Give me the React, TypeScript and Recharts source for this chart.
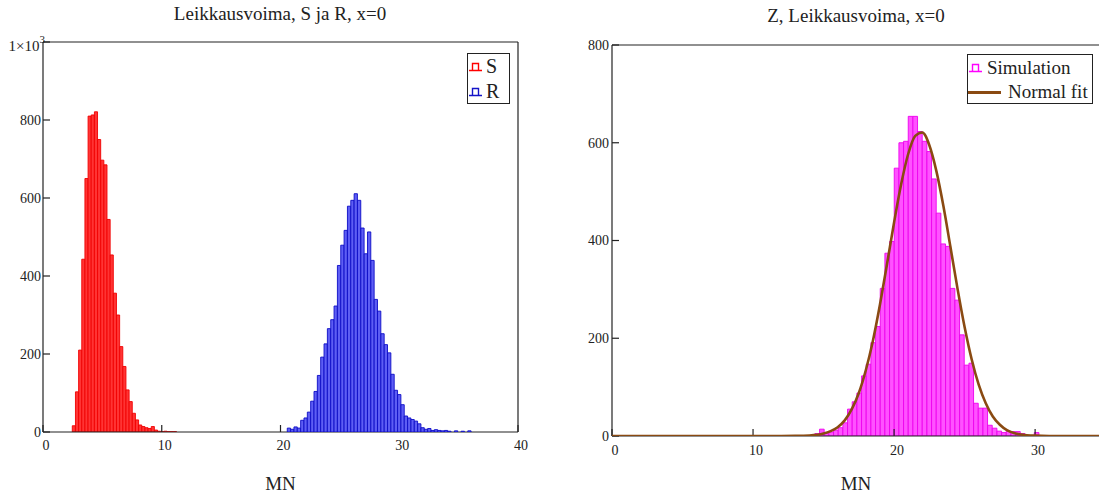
import React from 'react'
import { BarChart, Bar, LineChart, Line, XAxis, YAxis, Legend } from 'recharts'

// S histogram (red), bin centres start + i * bin
const S_START = 2.6
const S_BIN = 0.266
const sCounts = [16, 103, 210, 443, 650, 810, 813, 821, 750, 697, 685, 545, 454, 356, 300, 219, 168, 108, 78, 48, 31, 18, 14, 11, 9, 14, 5, 2, 1, 2, 1, 1, 1]

// R histogram (blue)
const R_START = 20.711
const R_BIN = 0.2815
const rCounts = [10, 7, 13, 10, 30, 36, 51, 79, 104, 145, 192, 226, 265, 288, 323, 427, 479, 517, 579, 594, 611, 594, 523, 457, 513, 440, 340, 310, 252, 224, 203, 148, 107, 96, 70, 41, 36, 32, 28, 21, 11, 7, 9, 4, 6, 4, 3, 4, 2, 0, 3, 0, 2, 0, 3]

// Z histogram (magenta)
const Z_START = 14.55
const Z_BIN = 0.331
const zCounts = [5, 14, 5, 8, 12, 17, 27, 55, 70, 88, 123, 147, 191, 224, 302, 374, 398, 548, 600, 603, 654, 654, 623, 603, 582, 526, 456, 393, 388, 302, 278, 207, 145, 149, 67, 57, 57, 22, 16, 10, 7, 10, 9, 9, 5, 0, 0, 7]

// normal fit curve
const fitX = [0, 5, 10, 12, 13, 14, 15, 15.5, 16, 16.5, 17, 17.5, 18, 18.5, 19, 19.5, 20, 20.5, 21, 21.5, 22, 22.5, 23, 23.5, 24, 24.5, 25, 25.5, 26, 26.5, 27, 27.5, 28, 28.5, 29, 30, 31, 33, 34.6]
const fitY = [0, 0, 0, 0, 0.2, 1, 5, 10, 18, 32, 55, 88, 135, 195, 269, 352, 437, 515, 577, 614, 621, 595, 542, 470, 386, 301, 223, 157, 105, 67, 40, 23, 12, 6, 3, 0.7, 0.1, 0, 0]

const leftXTicks = [0, 10, 20, 30, 40]
const leftYTicks = [0, 200, 400, 600, 800, 1000]
const rightXTicks = [0, 10, 20, 30]
const rightYTicks = [0, 200, 400, 600, 800]

const FONT = "'Liberation Serif', 'Times New Roman', serif"
const INK = '#222'

const toRows = (start: number, bin: number, counts: number[]) =>
  counts.map((n, i) => ({ x: +(start + i * bin).toFixed(4), n }))

const sRows = toRows(S_START, S_BIN, sCounts)
const rRows = toRows(R_START, R_BIN, rCounts)
const zRows = toRows(Z_START, Z_BIN, zCounts)
const fitRows = fitX.map((x, i) => ({ x, y: fitY[i] }))

// left panel: plot box 43..518 x 42..432
const LW = 560
const LX_MAX = 40
const L_PX = 475 / LX_MAX
// right panel: plot box 612..1100 x 45..436 (page coords)
const RW = 560
const RX_MAX = 34.6
const R_PX = 488 / RX_MAX

function XTick(props: any) {
  const { x, y, payload } = props
  return (
    <text x={x + 3} y={y} dy="0.71em" textAnchor="middle" fontFamily={FONT} fontSize={14} fill={INK}>
      {payload.value}
    </text>
  )
}

function YTick(props: any) {
  const { x, y, payload } = props
  if (payload.value === 1000) {
    return (
      <text x={x + 4} y={y + 4} dy="0.35em" textAnchor="end" fontFamily={FONT} fontSize={15} fill={INK}>
        1×10<tspan dy={-8} fontSize={11}>3</tspan>
      </text>
    )
  }
  return (
    <text x={x} y={y} dy="0.35em" textAnchor="end" fontFamily={FONT} fontSize={14} fill={INK}>
      {payload.value}
    </text>
  )
}

const HistIcon = ({ color }: { color: string }) => (
  <svg width={13} height={10} style={{ display: 'block' }}>
    <path d="M0 8.5 H13 M3.5 8.5 V1.5 H9.5 V8.5" fill="none" stroke={color} strokeWidth={1.4} />
  </svg>
)

const SRLegend = () => (
  <div
    style={{
      width: 43,
      height: 51,
      boxSizing: 'border-box',
      border: `1px solid ${INK}`,
      background: '#fff',
      fontFamily: FONT,
      fontSize: 20,
      color: INK,
    }}
  >
    <div style={{ display: 'flex', alignItems: 'center', height: 25 }}>
      <span style={{ marginLeft: 1 }}><HistIcon color="#ff0000" /></span>
      <span style={{ marginLeft: 4 }}>S</span>
    </div>
    <div style={{ display: 'flex', alignItems: 'center', height: 25 }}>
      <span style={{ marginLeft: 1 }}><HistIcon color="#1414c8" /></span>
      <span style={{ marginLeft: 4 }}>R</span>
    </div>
  </div>
)

const ZLegend = () => (
  <div
    style={{
      width: 126,
      height: 50,
      boxSizing: 'border-box',
      border: `1px solid ${INK}`,
      background: '#fff',
      fontFamily: FONT,
      fontSize: 19,
      color: INK,
      paddingTop: 1,
    }}
  >
    <div style={{ display: 'flex', alignItems: 'center', height: 24 }}>
      <span style={{ marginLeft: 1 }}><HistIcon color="#ff00ff" /></span>
      <span style={{ marginLeft: 5 }}>Simulation</span>
    </div>
    <div style={{ display: 'flex', alignItems: 'center', height: 24 }}>
      <span style={{ width: 33, height: 3, background: '#8a4a12', display: 'block' }} />
      <span style={{ marginLeft: 7 }}>Normal fit</span>
    </div>
  </div>
)

const axisProps = {
  stroke: INK,
  strokeWidth: 1.2,
  tickSize: -7,
  interval: 0 as const,
  allowDataOverflow: true,
}

export default function App() {
  return (
    <div
      style={{
        position: 'absolute',
        left: 0,
        top: 0,
        width: 1099,
        height: 493,
        overflow: 'hidden',
        background: '#fff',
        fontFamily: FONT,
      }}
    >
      {/* left panel */}
      <div style={{ position: 'absolute', left: 0, top: 0 }}>
        <BarChart width={LW} height={493} data={sRows} margin={{ top: 41, right: 41, bottom: 0, left: 0 }}>
          <XAxis
            {...axisProps}
            dataKey="x"
            type="number"
            domain={[0, LX_MAX]}
            ticks={leftXTicks}
            height={61}
            tickMargin={15}
            tick={<XTick />}
            label={{ value: 'MN', position: 'insideBottom', offset: 3, fill: INK, fontSize: 19, fontFamily: FONT }}
          />
          <XAxis {...axisProps} xAxisId="top" orientation="top" type="number" domain={[0, LX_MAX]} ticks={leftXTicks} height={1} tick={false} />
          <YAxis {...axisProps} type="number" domain={[0, 1000]} ticks={leftYTicks} width={43} tickMargin={9} tick={<YTick />} />
          <YAxis {...axisProps} yAxisId="right" orientation="right" type="number" domain={[0, 1000]} ticks={leftYTicks} width={1} tick={false} />
          <Bar
            dataKey="n"
            name="S"
            fill="#ff3434"
            stroke="#f00000"
            strokeWidth={0.9}
            barSize={S_BIN * L_PX - 0.05}
            isAnimationActive={false}
          />
        </BarChart>
      </div>
      <div style={{ position: 'absolute', left: 0, top: 0 }}>
        <BarChart width={LW} height={493} data={rRows} margin={{ top: 42, right: 42, bottom: 61, left: 43 }}>
          <XAxis dataKey="x" type="number" domain={[0, LX_MAX]} allowDataOverflow hide />
          <YAxis type="number" domain={[0, 1000]} allowDataOverflow hide />
          <Legend
            layout="vertical"
            align="center"
            verticalAlign="middle"
            wrapperStyle={{ left: 467, top: 53, width: 43, height: 51 }}
            content={() => <SRLegend />}
          />
          <Bar
            dataKey="n"
            name="R"
            fill="#5e5ef4"
            stroke="#0c0cc6"
            strokeWidth={0.9}
            barSize={R_BIN * L_PX - 0.05}
            isAnimationActive={false}
          />
        </BarChart>
      </div>
      <div
        style={{
          position: 'absolute',
          left: 0,
          top: 3,
          width: 560,
          textAlign: 'center',
          fontSize: 19,
          color: INK,
          lineHeight: '22px',
        }}
      >
        Leikkausvoima, S ja R, x=0
      </div>

      {/* right panel */}
      <div style={{ position: 'absolute', left: 560, top: 0 }}>
        <BarChart width={RW} height={493} data={zRows} margin={{ top: 44, right: 19, bottom: 0, left: 0 }}>
          <XAxis
            {...axisProps}
            dataKey="x"
            type="number"
            domain={[0, RX_MAX]}
            ticks={rightXTicks}
            height={57}
            tickMargin={16}
            tick={<XTick />}
            label={{ value: 'MN', position: 'insideBottom', offset: 3, fill: INK, fontSize: 19, fontFamily: FONT }}
          />
          <XAxis {...axisProps} xAxisId="top" orientation="top" type="number" domain={[0, RX_MAX]} ticks={rightXTicks} height={1} tick={false} />
          <YAxis {...axisProps} type="number" domain={[0, 800]} ticks={rightYTicks} width={52} tickMargin={10} tick={<YTick />} />
          <YAxis {...axisProps} yAxisId="right" orientation="right" type="number" domain={[0, 800]} ticks={rightYTicks} width={1} tick={false} />
          <Bar
            dataKey="n"
            name="Simulation"
            fill="#ff52ff"
            stroke="#ee00ee"
            strokeWidth={0.9}
            barSize={Z_BIN * R_PX - 0.05}
            isAnimationActive={false}
          />
        </BarChart>
      </div>
      <div style={{ position: 'absolute', left: 560, top: 0 }}>
        <LineChart width={RW} height={493} data={fitRows} margin={{ top: 45, right: 20, bottom: 57, left: 52 }}>
          <XAxis dataKey="x" type="number" domain={[0, RX_MAX]} allowDataOverflow hide />
          <YAxis type="number" domain={[0, 800]} allowDataOverflow hide />
          <Legend
            layout="vertical"
            align="center"
            verticalAlign="middle"
            wrapperStyle={{ left: 407, top: 54, width: 126, height: 50 }}
            content={() => <ZLegend />}
          />
          <Line
            dataKey="y"
            name="Normal fit"
            type="monotone"
            stroke="#8a4a12"
            strokeWidth={2.6}
            dot={false}
            isAnimationActive={false}
          />
        </LineChart>
      </div>
      <div
        style={{
          position: 'absolute',
          left: 656,
          top: 5,
          width: 400,
          textAlign: 'center',
          fontSize: 19,
          color: INK,
          lineHeight: '22px',
        }}
      >
        Z, Leikkausvoima, x=0
      </div>
    </div>
  )
}
